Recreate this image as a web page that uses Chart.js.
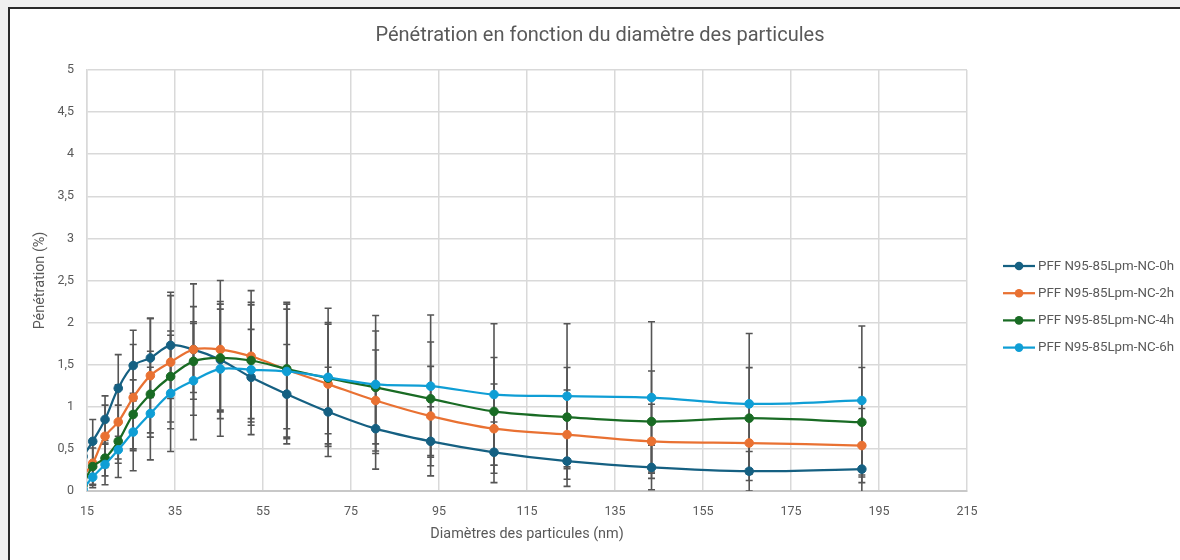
<!DOCTYPE html>
<html><head><meta charset="utf-8">
<script src="https://cdn.jsdelivr.net/npm/chart.js@4.4.1/dist/chart.umd.min.js"></script>
<style>
html,body{margin:0;padding:0;background:#f0f0f0;width:1180px;height:560px;overflow:hidden;}
#frame{position:absolute;left:8px;top:7px;width:1190px;height:570px;background:#fff;border:2px solid #2a2a2a;box-sizing:border-box;}
#wrap{position:absolute;left:0;top:0;width:1180px;height:560px;}
</style></head><body>
<div id="frame"></div>
<div id="wrap"><canvas id="c" width="1180" height="560"></canvas></div>
<script>
// Particle diameters (nm) – first channel lies just left of the axis minimum and is clipped
const diameters = [14.1, 16.3, 19.1, 22.1, 25.5, 29.4, 34.0, 39.2, 45.3, 52.3, 60.4, 69.8, 80.6, 93.1, 107.5, 124.1, 143.3, 165.5, 191.1];

const seriesNames = ['PFF N95-85Lpm-NC-0h', 'PFF N95-85Lpm-NC-2h', 'PFF N95-85Lpm-NC-4h', 'PFF N95-85Lpm-NC-6h'];

const pen0h = [0.41, 0.59, 0.85, 1.22, 1.49, 1.58, 1.73, 1.68, 1.56, 1.35, 1.15, 0.94, 0.74, 0.59, 0.46, 0.355, 0.28, 0.235, 0.26];
const pen2h = [0.18, 0.33, 0.65, 0.82, 1.11, 1.37, 1.53, 1.68, 1.68, 1.60, 1.44, 1.27, 1.075, 0.89, 0.74, 0.67, 0.59, 0.57, 0.54];
const pen4h = [0.07, 0.29, 0.39, 0.59, 0.91, 1.15, 1.36, 1.54, 1.58, 1.55, 1.45, 1.34, 1.23, 1.095, 0.945, 0.877, 0.825, 0.865, 0.817];
const pen6h = [0.02, 0.165, 0.315, 0.49, 0.70, 0.92, 1.16, 1.31, 1.45, 1.44, 1.42, 1.35, 1.265, 1.245, 1.146, 1.126, 1.11, 1.035, 1.075];

// Error bar half-widths (±)
const err0h = [0.2, 0.26, 0.28, 0.40, 0.42, 0.47, 0.63, 0.51, 0.60, 0.57, 0.59, 0.53, 0.48, 0.41, 0.36, 0.30, 0.265, 0.235, 0.30];
const err2h = [0.2, 0.25, 0.37, 0.44, 0.63, 0.68, 0.79, 0.78, 0.82, 0.78, 0.80, 0.71, 0.60, 0.59, 0.53, 0.53, 0.44, 0.445, 0.44];
const err4h = [0.2, 0.22, 0.21, 0.43, 0.41, 0.51, 0.54, 0.45, 0.64, 0.69, 0.71, 0.66, 0.67, 0.675, 0.64, 0.59, 0.60, 0.60, 0.65];
const err6h = [0.1, 0.125, 0.24, 0.16, 0.46, 0.55, 0.69, 0.70, 0.80, 0.77, 0.80, 0.82, 0.82, 0.845, 0.84, 0.86, 0.90, 0.835, 0.885];

const xTicks = [15, 35, 55, 75, 95, 115, 135, 155, 175, 195, 215];
const yTicks = [0, 0.5, 1, 1.5, 2, 2.5, 3, 3.5, 4, 4.5, 5];
const yTickLabels = ['0', '0,5', '1', '1,5', '2', '2,5', '3', '3,5', '4', '4,5', '5'];

const colors = ['#156082', '#E97132', '#196B24', '#0F9ED5'];
const values = [pen0h, pen2h, pen4h, pen6h];
const errors = [err0h, err2h, err4h, err6h];

const FONT = 'Roboto, "Liberation Sans", sans-serif';
const TXT = '#595959';

const datasets = values.map((vals, k) => ({
  label: seriesNames[k],
  data: diameters.map((d, i) => ({x: d, y: vals[i]})),
  errors: errors[k],
  borderColor: colors[k],
  backgroundColor: colors[k],
  pointBackgroundColor: colors[k],
  pointBorderColor: colors[k],
  borderWidth: 2.25,
  pointRadius: 4.3,
  pointBorderWidth: 1,
  tension: 0.35,
  order: 4 - k
}));

const errorBarPlugin = {
  id: 'errbars',
  beforeDatasetsDraw(chart) {
    const {ctx, chartArea: a, scales: {x, y}} = chart;
    ctx.save();
    ctx.beginPath();
    ctx.rect(a.left, a.top, a.right - a.left, a.bottom - a.top);
    ctx.clip();
    ctx.strokeStyle = '#555555';
    ctx.lineWidth = 1.6;
    chart.data.datasets.forEach(ds => {
      ds.data.forEach((p, i) => {
        const e = ds.errors[i];
        const px = x.getPixelForValue(p.x);
        const t = y.getPixelForValue(p.y + e);
        const b = y.getPixelForValue(p.y - e);
        ctx.beginPath();
        ctx.moveTo(px, t); ctx.lineTo(px, b);
        ctx.moveTo(px - 3.5, t); ctx.lineTo(px + 3.5, t);
        ctx.moveTo(px - 3.5, b); ctx.lineTo(px + 3.5, b);
        ctx.stroke();
      });
    });
    ctx.restore();
  }
};

const titleLegendPlugin = {
  id: 'titleLegend',
  afterDraw(chart) {
    const ctx = chart.ctx;
    ctx.save();
    ctx.fillStyle = TXT;
    ctx.font = '20px ' + FONT;
    ctx.textAlign = 'center';
    ctx.textBaseline = 'middle';
    ctx.fillText('Pénétration en fonction du diamètre des particules', 600, 36);
    // legend
    ctx.font = '13.3px ' + FONT;
    ctx.textAlign = 'left';
    chart.data.datasets.forEach((ds, k) => {
      const yy = 266 + k * 27.2;
      ctx.strokeStyle = ds.borderColor;
      ctx.lineWidth = 2.25;
      ctx.beginPath(); ctx.moveTo(1003, yy); ctx.lineTo(1035, yy); ctx.stroke();
      ctx.fillStyle = ds.borderColor;
      ctx.beginPath(); ctx.arc(1019, yy, 4.3, 0, Math.PI * 2); ctx.fill();
      ctx.fillStyle = TXT;
      ctx.fillText(ds.label, 1038, yy + 0.5);
    });
    ctx.restore();
  }
};

new Chart(document.getElementById('c'), {
  type: 'line',
  data: {datasets},
  plugins: [errorBarPlugin, titleLegendPlugin],
  options: {
    responsive: false,
    animation: false,
    devicePixelRatio: 1,
    layout: {padding: {left: 0, right: 213, top: 70, bottom: 0}},
    plugins: {legend: {display: false}, title: {display: false}, tooltip: {enabled: false}},
    scales: {
      x: {
        type: 'linear',
        min: 15, max: 215,
        afterBuildTicks: s => { s.ticks = xTicks.map(v => ({value: v})); },
        afterFit: s => { s.height = 69; },
        grid: {color: '#d9d9d9', lineWidth: 1.5, drawTicks: false},
        border: {color: '#c8c8c8', width: 2},
        ticks: {color: TXT, font: {family: FONT, size: 12.5}, padding: 13, maxRotation: 0, autoSkip: false,
          callback: v => String(v)},
        title: {display: true, text: 'Diamètres des particules (nm)', color: TXT,
          font: {family: FONT, size: 14.4}, padding: {top: 0, bottom: 17}}
      },
      y: {
        min: 0, max: 5,
        afterBuildTicks: s => { s.ticks = yTicks.map(v => ({value: v})); },
        afterFit: s => { s.width = 87; },
        grid: {color: '#d9d9d9', lineWidth: 1.5, drawTicks: false},
        border: {color: '#d9d9d9', width: 1.5},
        ticks: {color: TXT, font: {family: FONT, size: 12.5}, padding: 13,
          callback: (v, i) => yTickLabels[yTicks.indexOf(v)] ?? ''},
        title: {display: true, text: 'Pénétration (%)', color: TXT,
          font: {family: FONT, size: 14.4}, padding: {top: 31.5, bottom: 0}}
      }
    }
  }
});
</script>
</body></html>
